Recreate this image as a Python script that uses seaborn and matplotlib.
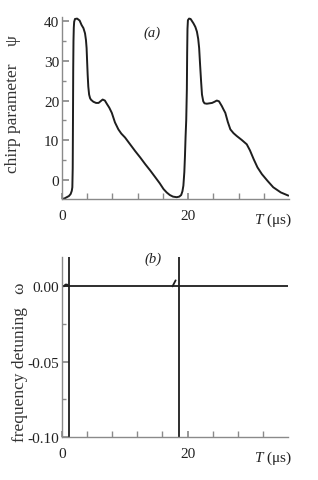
import matplotlib
matplotlib.use("Agg")
import matplotlib.pyplot as plt
import seaborn as sns
import numpy as np
import pandas as pd
from matplotlib.ticker import FixedLocator

# ---- data: panel (a) chirp parameter psi vs T (us)
a_T = [0.0, 0.4, 0.75, 1.1, 1.37, 1.55, 1.64, 1.7, 1.74, 1.78, 1.82, 1.87, 1.93,
       2.06, 2.4, 2.8, 3.1, 3.4, 3.65, 3.8, 3.9, 3.98, 4.07, 4.17, 4.3, 4.45,
       4.6, 4.97, 5.4, 5.8, 6.1, 6.45, 6.8, 7.1, 7.5, 7.9, 8.4, 8.94, 9.4, 10.0,
       10.8, 11.6, 12.4, 13.2, 14.0, 14.8, 15.5, 16.1, 16.6, 17.1, 17.6, 18.2,
       18.6, 18.9, 19.1, 19.25, 19.4, 19.5, 19.6, 19.7, 19.8, 19.85, 19.9, 19.97,
       20.15, 20.4, 20.85, 21.15, 21.4, 21.6, 21.75, 21.9, 22.06, 22.2, 22.4,
       22.6, 22.97, 23.8, 24.2, 24.55, 24.9, 25.35, 25.6, 25.9, 26.3, 26.7, 27.2,
       27.7, 28.5, 29.3, 29.8, 30.4, 31.0, 31.7, 32.6, 33.5, 34.7, 35.9]
a_psi = [-4.75, -4.6, -4.3, -4.0, -3.5, -2.7, -1.8, 3.0, 15.0, 28.0, 35.0, 38.3,
         39.8, 40.5, 40.6, 40.1, 39.0, 38.2, 36.9, 35.2, 33.2, 30.0, 26.5, 23.5,
         21.5, 20.6, 20.2, 19.7, 19.4, 19.4, 19.8, 20.25, 20.0, 19.2, 18.2, 16.9,
         14.5, 12.75, 11.7, 10.7, 9.0, 7.3, 5.7, 4.0, 2.4, 0.7, -0.8, -2.25, -3.1,
         -3.75, -4.15, -4.3, -4.15, -3.75, -2.8, -1.4, 2.0, 6.0, 11.0, 15.0, 22.75,
         32.0, 38.0, 40.2, 40.6, 40.5, 39.4, 38.5, 37.3, 35.5, 33.2, 29.0, 24.8,
         21.5, 19.8, 19.3, 19.2, 19.4, 19.7, 20.0, 19.8, 18.6, 17.8, 16.9, 14.6,
         12.75, 11.8, 11.1, 10.1, 9.0, 7.5, 5.25, 3.2, 1.5, -0.2, -1.8, -3.1, -3.9]

# ---- data: panel (b) frequency detuning omega vs T (us), drawn as segments
b_T = [0.0, 36.0,
       0.3, 0.55, 0.8, 1.0,
       17.6, 18.1,
       1.16, 1.16,
       18.6, 18.6]
b_omega = [0.0, 0.0,
           0.0, 0.0012, 0.0012, 0.0004,
           0.0, 0.004,
           0.03, -0.12,
           0.03, -0.12]
b_seg = [0, 0, 1, 1, 1, 1, 2, 2, 3, 3, 4, 4]

x_major = [0, 20]
x_minor = [4, 8, 12, 16, 24, 28, 32]
a_yticks = [0, 10, 20, 30, 40]
a_yminor = [-5, 5, 15, 25, 35]
b_yticks = [0.0, -0.05, -0.10]
b_ylabels = ["0.00", "-0.05", "-0.10"]
b_yminor = [-0.025, -0.075]

sns.set_theme(style="ticks")
plt.rcParams['font.family'] = ['Liberation Serif', 'DejaVu Serif']
plt.rcParams['mathtext.fontset'] = 'custom'
plt.rcParams['mathtext.rm'] = 'Liberation Serif'
plt.rcParams['mathtext.it'] = 'Liberation Serif:italic'

W, H = 318, 481
fig = plt.figure(figsize=(W / 100, H / 100), dpi=100)

def px_axes(l, t, r, b):
    return fig.add_axes([l / W, 1 - b / H, (r - l) / W, (b - t) / H])

ax1 = px_axes(62, 18, 289, 200)
ax2 = px_axes(62, 258, 288, 438)

spine_c = "#8a8a8a"
line_c = "#1e1e1e"

dfa = pd.DataFrame({"T": a_T, "psi": a_psi})
sns.lineplot(data=dfa, x="T", y="psi", ax=ax1, sort=False, estimator=None,
             color=line_c, lw=1.4)
dfb = pd.DataFrame({"T": b_T, "omega": b_omega, "seg": b_seg})
sns.lineplot(data=dfb, x="T", y="omega", units="seg", ax=ax2, sort=False,
             estimator=None, color=line_c, lw=1.3)

for ax in (ax1, ax2):
    ax.set_xlim(0, 36)
    ax.xaxis.set_major_locator(FixedLocator(x_major))
    ax.xaxis.set_minor_locator(FixedLocator(x_minor))
    for s in ("top", "right"):
        ax.spines[s].set_visible(False)
    for s in ("left", "bottom"):
        ax.spines[s].set_color(spine_c)
        ax.spines[s].set_linewidth(1.0)
    ax.tick_params(axis="both", which="both", direction="in", color=spine_c,
                   labelsize=11, labelcolor="#222222")
    ax.tick_params(axis="x", which="both", length=4, pad=7)
    ax.tick_params(axis="y", which="major", length=5, pad=2)
    ax.tick_params(axis="y", which="minor", length=3)
    ax.set_xlabel("")
    ax.set_ylabel("")
    ax.patch.set_alpha(0)

ax1.set_ylim(-4.75, 41.0)
ax1.yaxis.set_major_locator(FixedLocator(a_yticks))
ax1.yaxis.set_minor_locator(FixedLocator(a_yminor))

ax2.set_ylim(-0.10, 0.0195)
ax2.set_yticks(b_yticks)
ax2.set_yticklabels(b_ylabels)
ax2.yaxis.set_minor_locator(FixedLocator(b_yminor))

ax1.set_ylabel("chirp parameter    ψ", fontsize=12.5, color="#333333")
ax1.yaxis.set_label_coords((21 - 62) / 227, (200 - 104) / 182)
ax2.set_ylabel("frequency detuning   ω", fontsize=12.5, color="#333333")
ax2.yaxis.set_label_coords((28 - 62) / 226, (438 - 362) / 180)

fig.text(152 / W, 1 - 33 / H, "(a)", style="italic", fontsize=10.5,
         ha="center", va="center", color="#222222")
fig.text(153 / W, 1 - 259 / H, "(b)", style="italic", fontsize=10.5,
         ha="center", va="center", color="#222222")
for yy in (220, 458):
    fig.text(273 / W, 1 - yy / H, r"$\it{T}$ (μs)", fontsize=11,
             ha="center", va="center", color="#222222")

fig.savefig("out.png", dpi=100, facecolor="white")
